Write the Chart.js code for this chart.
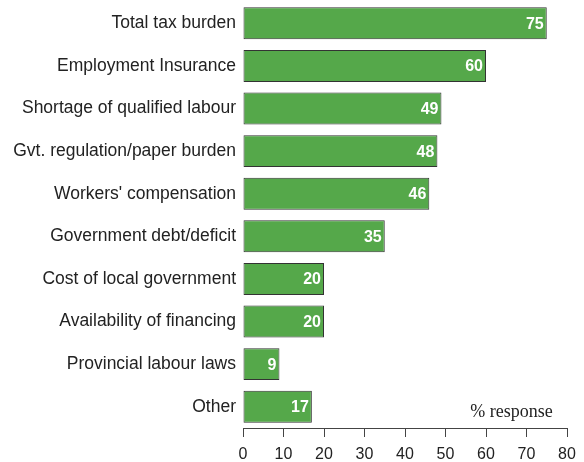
<!DOCTYPE html>
<html>
<head>
<meta charset="utf-8">
<script src="https://cdn.jsdelivr.net/npm/chart.js@4/dist/chart.umd.min.js"></script>
<style>
  html, body { margin: 0; padding: 0; background: #fff; }
  #wrap { width: 584px; height: 462px; position: relative; }
</style>
</head>
<body>
<div id="wrap"><canvas id="chart"></canvas></div>
<script>
const categories = [
  'Total tax burden',
  'Employment Insurance',
  'Shortage of qualified labour',
  'Gvt. regulation/paper burden',
  "Workers' compensation",
  'Government debt/deficit',
  'Cost of local government',
  'Availability of financing',
  'Provincial labour laws',
  'Other'
];
const responses = [75, 60, 49, 48, 46, 35, 20, 20, 9, 17];
const xTicks = [0, 10, 20, 30, 40, 50, 60, 70, 80];
const axisNote = '% response';

const sans = '"Liberation Sans", Arial, sans-serif';
const serif = '"Liberation Serif", "Times New Roman", serif';

// white value at the end of each bar, plus the axis note
const barLabels = {
  id: 'barLabels',
  afterDatasetsDraw(chart) {
    const ctx = chart.ctx;
    const meta = chart.getDatasetMeta(0);
    ctx.save();
    ctx.fillStyle = '#fff';
    ctx.font = 'bold 16px ' + sans;
    ctx.textAlign = 'right';
    ctx.textBaseline = 'middle';
    meta.data.forEach((bar, i) => {
      ctx.fillText(String(responses[i]), bar.x - 3, bar.y + 1);
    });
    const xs = chart.scales.x;
    ctx.fillStyle = '#222';
    ctx.font = '18px ' + serif;
    ctx.textBaseline = 'alphabetic';
    ctx.fillText(axisNote, xs.getPixelForValue(76.5), xs.top - 11);
    ctx.restore();
  }
};

new Chart(document.getElementById('chart'), {
  type: 'bar',
  data: {
    labels: categories,
    datasets: [{
      data: responses,
      backgroundColor: '#55a84a',
      borderColor: '#333',
      borderWidth: 1,
      borderSkipped: false,
      categoryPercentage: 1,
      barPercentage: 0.75
    }]
  },
  options: {
    indexAxis: 'y',
    responsive: true,
    maintainAspectRatio: false,
    animation: false,
    layout: { padding: { top: 2, right: 17, left: 0, bottom: 0 } },
    plugins: {
      legend: { display: false },
      tooltip: { enabled: false }
    },
    scales: {
      x: {
        min: 0,
        max: 80,
        afterBuildTicks: (scale) => { scale.ticks = xTicks.map(v => ({ value: v })); },
        afterFit: (scale) => { scale.height = 34; },
        grid: { drawOnChartArea: false, tickLength: 9, color: '#444', lineWidth: 1 },
        border: { display: true, color: '#444', width: 1 },
        ticks: { color: '#222', padding: 8, font: { family: sans, size: 16 }, maxRotation: 0 }
      },
      y: {
        afterFit: (scale) => {
          scale.width = 243;
          scale.paddingTop = 0;
          scale.paddingBottom = 0;
        },
        grid: { display: false, drawTicks: false },
        border: { display: false },
        ticks: { color: '#222', padding: 7, font: { family: sans, size: 17.5 }, autoSkip: false }
      }
    }
  },
  plugins: [barLabels]
});
</script>
</body>
</html>
